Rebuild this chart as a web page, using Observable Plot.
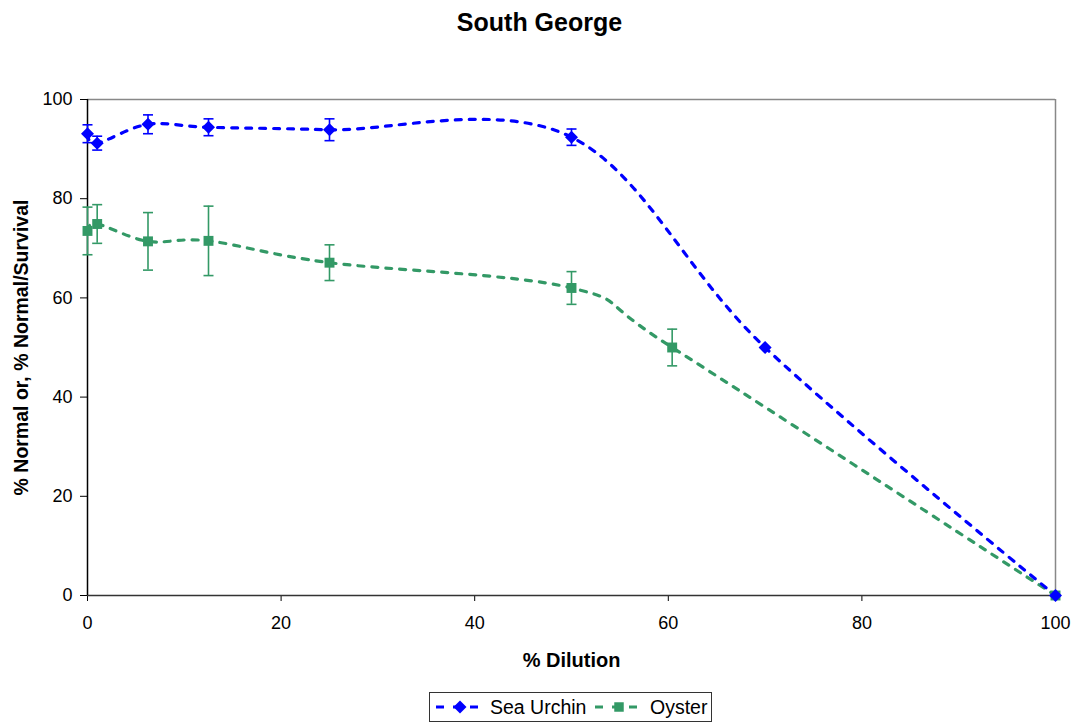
<!DOCTYPE html>
<html>
<head>
<meta charset="utf-8">
<script src="https://cdn.jsdelivr.net/npm/d3@7"></script>
<script src="https://cdn.jsdelivr.net/npm/@observablehq/plot@0.6"></script>
<style>
  body { margin: 0; background: #fff; font-family: "Liberation Sans", Arial, sans-serif; }
  #wrap { position: relative; width: 1079px; height: 722px; overflow: hidden; }
  #title { position: absolute; top: 7px; left: 0; width: 1079px; text-align: center;
           font: bold 25px "Liberation Sans", Arial, sans-serif; line-height: 30px; color: #000; }
  #chart { position: absolute; top: 0; left: 0; }
  #legend { position: absolute; left: 429px; top: 692px; width: 281px; height: 28px;
            border: 1px solid #333; box-sizing: content-box; background: #fff; }
  #legend svg { position: absolute; left: 0; top: 0; }
</style>
</head>
<body>
<div id="wrap">
  <div id="chart"></div>
  <div id="title">South George</div>
  <div id="legend"></div>
</div>
<script>
// ---- data ----
const seriesNames = ["Sea Urchin", "Oyster"];
const urchinDilution = [0, 1, 6.25, 12.5, 25, 50, 70, 100];
const urchinValue    = [93.1, 91.2, 95.0, 94.4, 93.9, 92.4, 50.0, 0];
const urchinError    = [1.8, 1.4, 1.9, 1.7, 2.2, 1.65, 0.3, 0];
const oysterDilution = [0, 1, 6.25, 12.5, 25, 50, 60.4, 100];
const oysterValue    = [73.5, 74.9, 71.4, 71.5, 67.1, 62.0, 50.0, 0];
const oysterError    = [4.8, 3.9, 5.8, 7.0, 3.6, 3.3, 3.7, 0];
const xTicks = [0, 20, 40, 60, 80, 100];
const yTicks = [0, 20, 40, 60, 80, 100];
const colors = ["#0000FF", "#339966"];

const urchin = urchinDilution.map((x, i) => ({series: seriesNames[0], x, y: urchinValue[i], e: urchinError[i]}));
const oyster = oysterDilution.map((x, i) => ({series: seriesNames[1], x, y: oysterValue[i], e: oysterError[i]}));

const capSymbol = {
  draw(ctx, size) { ctx.moveTo(-5, 0); ctx.lineTo(5, 0); }
};
const diamondSymbol = {
  draw(ctx, size) { const h = 6.5; ctx.moveTo(0, -h); ctx.lineTo(h, 0); ctx.lineTo(0, h); ctx.lineTo(-h, 0); ctx.closePath(); }
};

const font = "Liberation Sans, Arial, sans-serif";

function errorMarks(data, color) {
  const withErr = data.filter(d => d.e > 0.5);
  return [
    Plot.ruleX(withErr, {x: "x", y1: d => d.y - d.e, y2: d => d.y + d.e, stroke: color, strokeWidth: 1.6}),
    Plot.dot(withErr, {x: "x", y: d => d.y + d.e, symbol: capSymbol, stroke: color, strokeWidth: 1.6, fill: "none", r: 3}),
    Plot.dot(withErr, {x: "x", y: d => d.y - d.e, symbol: capSymbol, stroke: color, strokeWidth: 1.6, fill: "none", r: 3})
  ];
}

const plot = Plot.plot({
  width: 1079,
  height: 690,
  marginTop: 99,
  marginBottom: 95,
  marginLeft: 87,
  marginRight: 24,
  style: {fontFamily: font, fontSize: "18px", color: "#000", background: "transparent"},
  x: {domain: [0, 100], ticks: xTicks, tickSize: 6, tickPadding: 15, label: null},
  y: {domain: [0, 100], ticks: yTicks, tickSize: 7, tickPadding: 8, label: null},
  marks: [
    Plot.ruleY([100], {stroke: "#888", strokeWidth: 1.5}),
    Plot.ruleX([100], {stroke: "#888", strokeWidth: 1.5}),
    Plot.ruleY([0], {stroke: "#333", strokeWidth: 1.5}),
    Plot.ruleX([0], {stroke: "#000", strokeWidth: 1.5}),
    Plot.line(oyster, {x: "x", y: "y", stroke: colors[1], strokeWidth: 3.2, strokeDasharray: "6,8", curve: "cardinal"}),
    Plot.line(urchin, {x: "x", y: "y", stroke: colors[0], strokeWidth: 3.2, strokeDasharray: "6,8", curve: "cardinal"}),
    ...errorMarks(oyster, colors[1]),
    ...errorMarks(urchin, colors[0]),
    Plot.dot(oyster, {x: "x", y: "y", symbol: "square", fill: colors[1], r: 5.6}),
    Plot.dot(urchin, {x: "x", y: "y", symbol: diamondSymbol, fill: colors[0], r: 4}),
    Plot.text(["% Dilution"], {frameAnchor: "bottom", dy: 65.5, fontSize: 20, fontWeight: "bold", fill: "#000", lineAnchor: "middle", textAnchor: "middle"}),
    Plot.text(["% Normal or, % Normal/Survival"], {frameAnchor: "left", dx: -66, rotate: -90, fontSize: 19.5, fontWeight: "bold", fill: "#000", lineAnchor: "middle", textAnchor: "middle"})
  ]
});
document.getElementById("chart").appendChild(plot);

// ---- legend ----
const legend = d3.select("#legend").append("svg").attr("width", 281).attr("height", 28);
const entries = [
  {name: seriesNames[0], color: colors[0], sym: diamondSymbol, size: 60, lx: 6, tx: 60},
  {name: seriesNames[1], color: colors[1], sym: d3.symbolSquare, size: 90, lx: 165, tx: 220}
];
entries.forEach(e => {
  legend.append("line").attr("x1", e.lx).attr("x2", e.lx + 45).attr("y1", 14).attr("y2", 14)
    .attr("stroke", e.color).attr("stroke-width", 3.2).attr("stroke-dasharray", "8,9");
  legend.append("path").attr("d", d3.symbol(e.sym, e.size)()).attr("transform", `translate(${e.lx + 24},14)`)
    .attr("fill", e.color);
  legend.append("text").attr("x", e.tx).attr("y", 21).attr("font-family", font).attr("font-size", 19.5)
    .attr("fill", "#000").text(e.name);
});
</script>
</body>
</html>
